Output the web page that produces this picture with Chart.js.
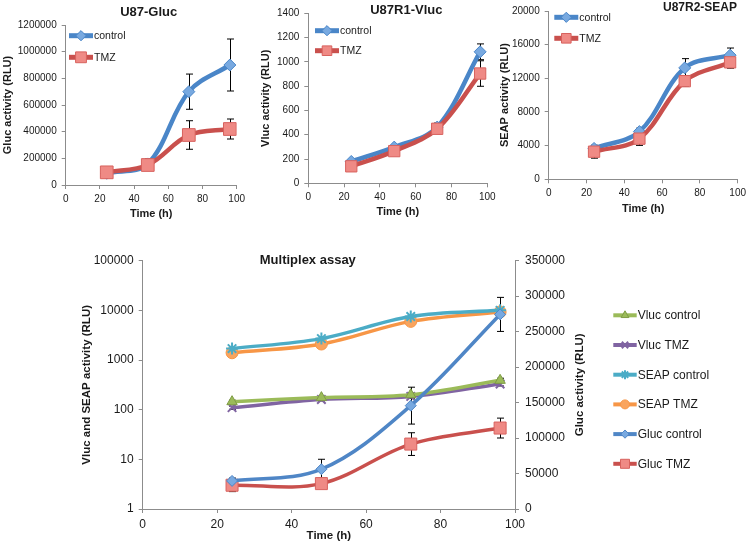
<!DOCTYPE html>
<html>
<head>
<meta charset="utf-8">
<script src="https://cdn.jsdelivr.net/npm/chart.js@4/dist/chart.umd.min.js"></script>
<style>
  body { margin: 0; background: #fff; }
  #figure { position: relative; width: 750px; height: 543px; overflow: hidden; background: #fff; }
  #figure canvas { position: absolute; }
</style>
</head>
<body>
<div id="figure">
  <canvas id="glucChart" width="250" height="225" style="left:0;top:0"></canvas>
  <canvas id="vlucChart" width="250" height="225" style="left:250px;top:0"></canvas>
  <canvas id="seapChart" width="255" height="225" style="left:495px;top:0"></canvas>
  <canvas id="multiplexChart" width="750" height="313" style="left:0;top:230px"></canvas>
</div>
<script>
// time points (h)
const hours = [24, 48, 72, 96];

// U87-Gluc
const glucControl = [88000, 158000, 700000, 900000];
const glucControlErr = [8000, 38000, 132000, 195000];
const glucTmz = [95000, 150000, 375000, 420000];
const glucTmzErr = [10000, 15000, 107000, 75000];

// U87R1-Vluc
const vlucControl = [180, 298, 463, 1083];
const vlucControlErr = [15, 15, 33, 65];
const vlucTmz = [140, 265, 449, 904];
const vlucTmzErr = [20, 20, 20, 105];

// U87R2-SEAP
const seapControl = [3670, 5670, 13240, 14750];
const seapControlErr = [300, 400, 1100, 850];
const seapTmz = [3280, 4830, 11660, 13900];
const seapTmzErr = [770, 800, 600, 700];

// Multiplex assay (Vluc / SEAP on log axis, Gluc on right axis)
const mxVlucControl = [145, 175, 200, 390];
const mxVlucControlErr = [10, 10, 15, 40];
const mxVlucTmz = [110, 160, 185, 330];
const mxVlucTmzErr = [8, 10, 15, 30];
const mxSeapControl = [1700, 2700, 7500, 10000];
const mxSeapTmz = [1400, 2100, 6000, 9300];
const mxGlucControl = [39600, 56100, 145700, 274300];
const mxGlucControlErr = [4000, 14000, 26000, 24000];
const mxGlucTmz = [33500, 35800, 91500, 114100];
const mxGlucTmzErr = [9000, 3000, 16000, 14000];
const mxLogTicks = [1, 10, 100, 1000, 10000, 100000];

const palette = {
  blue: "#4a86c8",
  blueFill: "#78a9e0",
  red: "#c9504d",
  redFill: "#ef8a85",
  redBorder: "#d8625e",
  green: "#9bbb59",
  purple: "#8064a2",
  teal: "#4bacc6",
  orange: "#f79646",
  axis: "#8c8c8c",
  text: "#1a1a1a",
};

Chart.defaults.font.family = "'Liberation Sans', Arial, sans-serif";
Chart.defaults.color = palette.text;

function toPoints(values) {
  return hours.map((h, i) => ({ x: h, y: values[i] }));
}

function plainNumber(value) {
  return String(value);
}

// error bars under the markers, legend, chart title, right-hand axis title
const figureDecor = {
  id: "figureDecor",
  beforeDatasetsDraw(chart) {
    const ctx = chart.ctx;
    ctx.save();
    ctx.strokeStyle = "#000";
    ctx.lineWidth = 1;
    chart.data.datasets.forEach((ds, i) => {
      if (!ds.errors) return;
      const meta = chart.getDatasetMeta(i);
      const scale = chart.scales[meta.yAxisID];
      meta.data.forEach((pt, j) => {
        const v = ds.data[j].y;
        const e = ds.errors[j];
        const top = scale.getPixelForValue(v + e);
        const bot = scale.getPixelForValue(Math.max(v - e, scale.min));
        const x = Math.round(pt.x) + 0.5;
        ctx.beginPath();
        ctx.moveTo(x, top);
        ctx.lineTo(x, bot);
        ctx.moveTo(x - 3.5, top);
        ctx.lineTo(x + 3.5, top);
        ctx.moveTo(x - 3.5, bot);
        ctx.lineTo(x + 3.5, bot);
        ctx.stroke();
      });
    });
    ctx.restore();
  },
  afterDraw(chart, args, opts) {
    const ctx = chart.ctx;
    ctx.save();
    if (opts.title) {
      ctx.font = `bold ${opts.title.size || 13}px 'Liberation Sans', Arial, sans-serif`;
      ctx.fillStyle = palette.text;
      ctx.textAlign = "center";
      ctx.textBaseline = "middle";
      ctx.fillText(opts.title.text, opts.title.x, opts.title.y);
    }
    if (opts.sideTitle) {
      const area = chart.chartArea;
      ctx.font = "bold 11.5px 'Liberation Sans', Arial, sans-serif";
      ctx.fillStyle = palette.text;
      ctx.translate(opts.sideTitle.x, (area.top + area.bottom) / 2);
      ctx.rotate(-Math.PI / 2);
      ctx.textAlign = "center";
      ctx.textBaseline = "middle";
      ctx.fillText(opts.sideTitle.text, 0, 0);
      ctx.setTransform(1, 0, 0, 1, 0, 0);
    }
    if (opts.legend) {
      const lg = opts.legend;
      chart.data.datasets.forEach((ds, k) => {
        const y = lg.y + k * lg.gap;
        ctx.strokeStyle = ds.borderColor;
        ctx.lineWidth = lg.lineWidth;
        ctx.beginPath();
        ctx.moveTo(lg.x, y);
        ctx.lineTo(lg.x + lg.len, y);
        ctx.stroke();
        ctx.fillStyle = ds.pointBackgroundColor;
        ctx.strokeStyle = ds.pointBorderColor;
        ctx.lineWidth = ds.pointBorderWidth;
        Chart.helpers.drawPoint(ctx, {
          pointStyle: ds.pointStyle,
          radius: ds.pointRadius * lg.markerScale,
          rotation: 0,
          borderWidth: ds.pointBorderWidth,
        }, lg.x + lg.len / 2, y);
        ctx.font = lg.font;
        ctx.fillStyle = palette.text;
        ctx.textAlign = "left";
        ctx.textBaseline = "middle";
        ctx.fillText(ds.label, lg.x + lg.len + 1, y + 0.5);
      });
    }
    ctx.restore();
  },
};
Chart.register(figureDecor);

function series(label, values, errors, color, fill, border, style, radius, width, yAxisID, order) {
  return {
    label,
    data: toPoints(values),
    errors,
    yAxisID,
    order,
    borderColor: color,
    borderWidth: width,
    tension: 0.35,
    pointStyle: style,
    pointRadius: radius,
    pointBackgroundColor: fill,
    pointBorderColor: border,
    pointBorderWidth: style === "star" || style === "crossRot" ? 2 : 1,
  };
}

function timeAxis(height, titlePad, fontSize) {
  return {
    type: "linear",
    min: 0,
    max: 100,
    ticks: { stepSize: 20, padding: 4, color: palette.text, font: { size: fontSize } },
    grid: { drawOnChartArea: false, tickLength: 4, color: palette.axis },
    border: { color: palette.axis },
    title: {
      display: true,
      text: "Time (h)",
      color: palette.text,
      font: { size: fontSize === 10 ? 11 : 11.5, weight: "bold" },
      padding: { top: 0, bottom: titlePad },
    },
    afterFit: (scale) => { scale.height = height; },
  };
}

function valueAxis(max, step, width, title, titlePad, fontSize) {
  return {
    type: "linear",
    position: "left",
    min: 0,
    max,
    ticks: { stepSize: step, padding: 5, color: palette.text, font: { size: fontSize }, callback: plainNumber },
    grid: { drawOnChartArea: false, tickLength: 4, color: palette.axis },
    border: { color: palette.axis },
    title: {
      display: true,
      text: title,
      color: palette.text,
      font: { size: 11, weight: "bold" },
      padding: { top: titlePad, bottom: 0 },
    },
    afterFit: (scale) => { scale.width = width; },
  };
}

function baseOptions(padding, scales, decor) {
  return {
    responsive: false,
    animation: false,
    events: [],
    layout: { padding },
    scales,
    plugins: {
      legend: { display: false },
      tooltip: { enabled: false },
      figureDecor: decor,
    },
  };
}

function topLegend(x, y, gap) {
  return {
    x, y, gap,
    len: 24,
    lineWidth: 5,
    markerScale: 0.85,
    font: "10.5px 'Liberation Sans', Arial, sans-serif",
  };
}

new Chart(document.getElementById("glucChart"), {
  type: "line",
  data: {
    datasets: [
      series("control", glucControl, glucControlErr, palette.blue, palette.blueFill, palette.blue, "rectRot", 6, 4.5, "y", 1),
      series("TMZ", glucTmz, glucTmzErr, palette.red, palette.redFill, palette.redBorder, "rect", 9, 4.5, "y", 0),
    ],
  },
  options: baseOptions(
    { top: 25, right: 13.3, left: 0, bottom: 0 },
    {
      x: timeAxis(40, 4.7, 10),
      y: valueAxis(1200000, 200000, 65.7, "Gluc activity (RLU)", 1, 10),
    },
    { title: { text: "U87-Gluc", x: 148.7, y: 12.7 }, legend: topLegend(69, 35.7, 21.6) }
  ),
});

new Chart(document.getElementById("vlucChart"), {
  type: "line",
  data: {
    datasets: [
      series("control", vlucControl, vlucControlErr, palette.blue, palette.blueFill, palette.blue, "rectRot", 6, 4.5, "y", 1),
      series("TMZ", vlucTmz, vlucTmzErr, palette.red, palette.redFill, palette.redBorder, "rect", 8, 4.5, "y", 0),
    ],
  },
  options: baseOptions(
    { top: 13.3, right: 12.7, left: 0, bottom: 0 },
    {
      x: timeAxis(41.7, 6.7, 10),
      y: valueAxis(1400, 200, 58.3, "Vluc activity (RLU)", 9, 10),
    },
    { title: { text: "U87R1-Vluc", x: 156.3, y: 10 }, legend: topLegend(65, 30.7, 20) }
  ),
});

new Chart(document.getElementById("seapChart"), {
  type: "line",
  data: {
    datasets: [
      series("control", seapControl, seapControlErr, palette.blue, palette.blueFill, palette.blue, "rectRot", 6, 4.5, "y", 1),
      series("TMZ", seapTmz, seapTmzErr, palette.red, palette.redFill, palette.redBorder, "rect", 8, 4.5, "y", 0),
    ],
  },
  options: baseOptions(
    { top: 7.3, right: 10, left: 0, bottom: 0 },
    {
      x: timeAxis(45.7, 9.7, 10),
      y: valueAxis(20000, 4000, 53.7, "SEAP activity (RLU)", 3, 10),
    },
    { title: { text: "U87R2-SEAP", x: 205, y: 8, size: 12 }, legend: topLegend(59.3, 17.3, 21) }
  ),
});

new Chart(document.getElementById("multiplexChart"), {
  type: "line",
  data: {
    datasets: [
      series("Vluc control", mxVlucControl, mxVlucControlErr, palette.green, palette.green, "#7f9c45", "triangle", 6, 3.5, "y", 1),
      series("Vluc TMZ", mxVlucTmz, mxVlucTmzErr, palette.purple, palette.purple, palette.purple, "crossRot", 6, 3.5, "y", 1),
      series("SEAP control", mxSeapControl, null, palette.teal, palette.teal, palette.teal, "star", 6, 3.5, "y", 1),
      series("SEAP TMZ", mxSeapTmz, null, palette.orange, "#f9a45e", palette.orange, "circle", 6, 3.5, "y", 1),
      series("Gluc control", mxGlucControl, mxGlucControlErr, "#4f86c6", palette.blueFill, "#4f86c6", "rectRot", 5.5, 3.5, "y2", 0),
      series("Gluc TMZ", mxGlucTmz, mxGlucTmzErr, palette.red, palette.redFill, palette.redBorder, "rect", 8.5, 3.5, "y2", 0),
    ],
  },
  options: baseOptions(
    { top: 30.7, right: 155, left: 0, bottom: 0 },
    {
      x: timeAxis(34, 0, 12),
      y: {
        type: "logarithmic",
        position: "left",
        min: 1,
        max: 100000,
        afterBuildTicks: (scale) => { scale.ticks = mxLogTicks.map((v) => ({ value: v })); },
        ticks: { padding: 5, color: palette.text, font: { size: 12 }, callback: plainNumber },
        grid: { drawOnChartArea: false, tickLength: 4, color: palette.axis },
        border: { color: palette.axis },
        title: {
          display: true,
          text: "Vluc and SEAP activity (RLU)",
          color: palette.text,
          font: { size: 11.5, weight: "bold" },
          padding: { top: 79.8, bottom: 0 },
        },
        afterFit: (scale) => { scale.width = 142.7; },
      },
      y2: {
        type: "linear",
        position: "right",
        min: 0,
        max: 350000,
        ticks: { stepSize: 50000, padding: 6, color: palette.text, font: { size: 12 }, callback: plainNumber },
        grid: { drawOnChartArea: false, tickLength: 4, color: palette.axis },
        border: { color: palette.axis },
        afterFit: (scale) => { scale.width = 80; },
      },
    },
    {
      title: { text: "Multiplex assay", x: 307.8, y: 30.7 },
      sideTitle: { text: "Gluc activity (RLU)", x: 580 },
      legend: {
        x: 613.3, y: 85.3, gap: 29.7, len: 23.4, lineWidth: 4, markerScale: 0.75,
        font: "12px 'Liberation Sans', Arial, sans-serif",
      },
    }
  ),
});
</script>
</body>
</html>
